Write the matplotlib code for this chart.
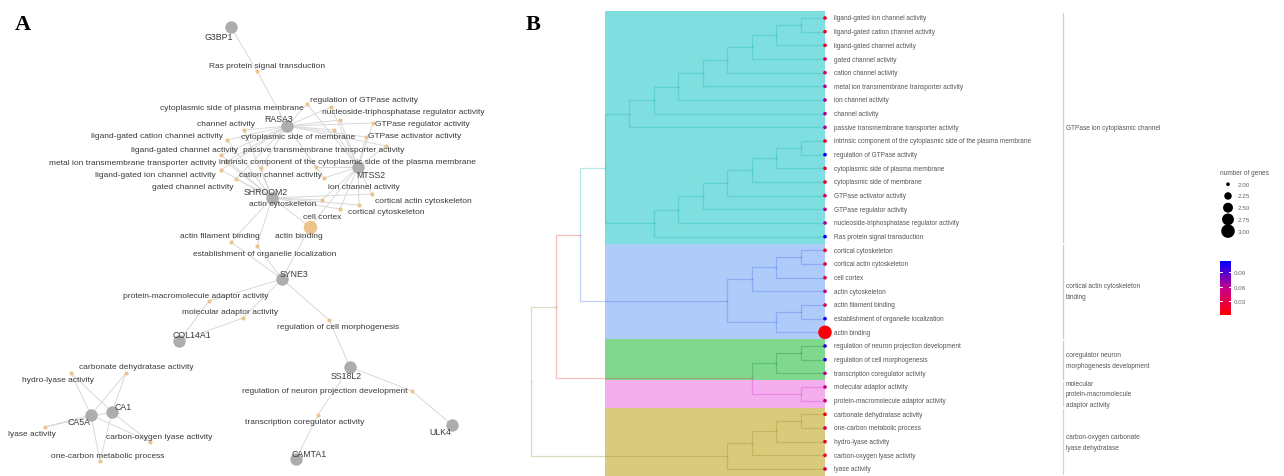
import numpy as np
import matplotlib.pyplot as plt
from matplotlib.colors import LinearSegmentedColormap
from matplotlib.patches import Rectangle

plt.rcParams['font.family'] = ['Liberation Sans', 'DejaVu Sans']

W, H = 1284, 477

# ---------------- panel A: gene / term network ----------------
# gene node -> (x, y) of node, (x, y) of label
genes = {
    'G3BP1': (231, 28, 219, 37),
    'RASA3': (287, 127, 279, 120),
    'MTSS2': (358, 168, 371, 176),
    'SHROOM2': (272, 199, 266, 193),
    'SYNE3': (282, 280, 294, 275),
    'COL14A1': (179, 342, 192, 336),
    'SS18L2': (350, 368, 346, 377),
    'CA1': (112, 413, 123, 408),
    'CA5A': (91, 416, 79, 423),
    'ULK4': (452, 426, 440, 433),
    'CAMTA1': (296, 460, 309, 455),
}

# term node -> dot x, dot y, label x, label y, alignment
terms = {
    'Ras protein signal transduction': (257, 72, 267, 67, 'center'),
    'cytoplasmic side of plasma membrane': (307, 105, 304, 109, 'right'),
    'regulation of GTPase activity': (331, 108, 310, 100, 'left'),
    'nucleoside-triphosphatase regulator activity': (340, 121, 322, 112, 'left'),
    'channel activity': (244, 131, 255, 125, 'right'),
    'GTPase regulator activity': (373, 124, 375, 124, 'left'),
    'ligand-gated cation channel activity': (227, 141, 223, 137, 'right'),
    'cytoplasmic side of membrane': (334, 131, 241, 138, 'left'),
    'GTPase activator activity': (366, 138, 368, 137, 'left'),
    'ligand-gated channel activity': (221, 156, 238, 151, 'right'),
    'passive transmembrane transporter activity': (386, 147, 243, 151, 'left'),
    'metal ion transmembrane transporter activity': (226, 163, 216, 164, 'right'),
    'intrinsic component of the cytoplasmic side of the plasma membrane': (316, 168, 219, 163, 'left'),
    'ligand-gated ion channel activity': (221, 171, 216, 176, 'right'),
    'cation channel activity': (261, 169, 239, 176, 'left'),
    'gated channel activity': (236, 180, 233, 188, 'right'),
    'ion channel activity': (324, 179, 328, 188, 'left'),
    'actin cytoskeleton': (322, 201, 249, 205, 'left'),
    'cortical actin cytoskeleton': (372, 195, 375, 202, 'left'),
    'cortical cytoskeleton': (359, 206, 348, 213, 'left'),
    'cell cortex': (340, 210, 303, 218, 'left'),
    'actin binding': (310, 228, 275, 237, 'left'),
    'actin filament binding': (231, 243, 180, 237, 'left'),
    'establishment of organelle localization': (257, 247, 193, 254, 'left'),
    'protein-macromolecule adaptor activity': (209, 302, 123, 297, 'left'),
    'molecular adaptor activity': (243, 319, 182, 313, 'left'),
    'regulation of cell morphogenesis': (329, 321, 277, 328, 'left'),
    'carbonate dehydratase activity': (126, 374, 79, 368, 'left'),
    'hydro-lyase activity': (71, 374, 22, 381, 'left'),
    'regulation of neuron projection development': (412, 392, 408, 392, 'right'),
    'lyase activity': (45, 428, 8, 435, 'left'),
    'carbon-oxygen lyase activity': (150, 443, 106, 438, 'left'),
    'transcription coregulator activity': (318, 416, 245, 423, 'left'),
    'one-carbon metabolic process': (100, 462, 51, 457, 'left'),
}

channel_terms = ['channel activity', 'ligand-gated cation channel activity',
                 'ligand-gated channel activity', 'metal ion transmembrane transporter activity',
                 'ligand-gated ion channel activity', 'cation channel activity',
                 'gated channel activity']
gtpase_terms = ['regulation of GTPase activity', 'cytoplasmic side of plasma membrane',
                'nucleoside-triphosphatase regulator activity', 'GTPase regulator activity',
                'GTPase activator activity', 'cytoplasmic side of membrane',
                'intrinsic component of the cytoplasmic side of the plasma membrane',
                'passive transmembrane transporter activity', 'ion channel activity']
cortex_terms = ['actin cytoskeleton', 'cortical actin cytoskeleton',
                'cortical cytoskeleton', 'cell cortex', 'actin binding']
ca_terms = ['carbonate dehydratase activity', 'hydro-lyase activity', 'lyase activity',
            'carbon-oxygen lyase activity', 'one-carbon metabolic process']

gene_terms = {
    'G3BP1': ['Ras protein signal transduction'],
    'RASA3': ['Ras protein signal transduction'] + gtpase_terms + channel_terms,
    'MTSS2': gtpase_terms + cortex_terms,
    'SHROOM2': channel_terms + cortex_terms + ['actin filament binding',
                                               'establishment of organelle localization'],
    'SYNE3': ['actin binding', 'actin filament binding', 'establishment of organelle localization',
              'protein-macromolecule adaptor activity', 'molecular adaptor activity',
              'regulation of cell morphogenesis'],
    'COL14A1': ['protein-macromolecule adaptor activity', 'molecular adaptor activity'],
    'SS18L2': ['regulation of cell morphogenesis', 'regulation of neuron projection development',
               'transcription coregulator activity'],
    'ULK4': ['regulation of neuron projection development'],
    'CAMTA1': ['transcription coregulator activity'],
    'CA1': ca_terms,
    'CA5A': ca_terms,
}

# ---------------- panel B: term tree ----------------
leaf_names = [
    'ligand-gated ion channel activity', 'ligand-gated cation channel activity',
    'ligand-gated channel activity', 'gated channel activity', 'cation channel activity',
    'metal ion transmembrane transporter activity', 'ion channel activity', 'channel activity',
    'passive transmembrane transporter activity',
    'intrinsic component of the cytoplasmic side of the plasma membrane',
    'regulation of GTPase activity', 'cytoplasmic side of plasma membrane',
    'cytoplasmic side of membrane', 'GTPase activator activity', 'GTPase regulator activity',
    'nucleoside-triphosphatase regulator activity', 'Ras protein signal transduction',
    'cortical cytoskeleton', 'cortical actin cytoskeleton', 'cell cortex', 'actin cytoskeleton',
    'actin filament binding', 'establishment of organelle localization', 'actin binding',
    'regulation of neuron projection development', 'regulation of cell morphogenesis',
    'transcription coregulator activity', 'molecular adaptor activity',
    'protein-macromolecule adaptor activity', 'carbonate dehydratase activity',
    'one-carbon metabolic process', 'hydro-lyase activity', 'carbon-oxygen lyase activity',
    'lyase activity',
]
leaf_pvalue = [0.012, 0.012, 0.015, 0.035, 0.04, 0.06, 0.065, 0.065, 0.065,
               0.012, 0.11, 0.015, 0.02, 0.04, 0.06, 0.065, 0.113,
               0.015, 0.02, 0.03, 0.06, 0.03, 0.105, 0.005,
               0.1, 0.1, 0.06, 0.055, 0.045,
               0.001, 0.03, 0.015, 0.015, 0.03]
leaf_count = [2] * 23 + [3] + [2] * 10

# (child a, child b, height); ids >= 34 are merged nodes
merges = [
    (0, 1, 1), (34, 2, 2), (35, 3, 3), (36, 4, 4), (37, 5, 5), (38, 6, 6), (39, 7, 7), (40, 8, 8),
    (9, 10, 1), (42, 11, 2), (43, 12, 3), (44, 13, 4), (45, 14, 5), (46, 15, 6), (47, 16, 7),
    (41, 48, 9),
    (17, 18, 1), (50, 19, 2), (51, 20, 3), (21, 22, 1), (53, 23, 2), (52, 54, 4),
    (24, 25, 1), (56, 26, 2), (27, 28, 1), (57, 58, 3),
    (29, 30, 1), (60, 31, 2), (61, 32, 3), (62, 33, 4),
    (49, 55, 10), (64, 59, 11), (65, 63, 12),
]
cluster_sizes = [17, 7, 3, 2, 5]
cluster_names = ['GTPase ion cytoplasmic channel',
                 'cortical actin cytoskeleton\nbinding',
                 'coregulator neuron\nmorphogenesis development',
                 'molecular\nprotein-macromolecule\nadaptor activity',
                 'carbon-oxygen carbonate\nlyase dehydratase']
cluster_fill = ['#7FDEDF', '#AFCBFA', '#80D88F', '#F4AEEE', '#D9CB7B']
cluster_line = ['#20B4B4', '#3D6FE8', '#109030', '#D040C8', '#9A8A20']
cluster_tag = ['#A8DDEA', '#B8CCF4', '#B0DDB8', '#F0C0EC', '#DDD6BC']
mixed_line = {10: '#20B4B4', 11: '#E83030', 12: '#B09060'}

size_legend = [2.00, 2.25, 2.50, 2.75, 3.00]
pv_ticks = [0.03, 0.06, 0.09]


def dot_area(n):
    return 7 + (n - 2) * 88


fig = plt.figure(figsize=(W / 100, H / 100), dpi=100)

# ---- A ----
axA = fig.add_axes([0, 0, 520 / W, 1])
axA.set_xlim(0, 520)
axA.set_ylim(H, 0)
axA.axis('off')

term_deg = {t: 0 for t in terms}
for g, tl in gene_terms.items():
    gx, gy = genes[g][:2]
    for t in tl:
        term_deg[t] += 1
        tx, ty = terms[t][:2]
        axA.plot([gx, tx], [gy, ty], color='#D9D9D9', lw=0.7, zorder=1)

for t, (dx, dy, lx, ly, ha) in terms.items():
    n = term_deg[t]
    axA.scatter(dx, dy, s=9 if n < 3 else 95, color='#EDC48E', zorder=3, linewidths=0)
    axA.text(lx, ly, t, ha=ha, va='center', fontsize=6, color='#3a3a3a', zorder=4)

for g, (gx, gy, lx, ly) in genes.items():
    axA.scatter(gx, gy, s=80, color='#ADADAD', zorder=3, linewidths=0)
    axA.text(lx, ly, g, ha='center', va='center', fontsize=6.3, color='#3a3a3a', zorder=4)

fig.text(23 / W, 1 - 25 / H, 'A', fontsize=16, fontweight='bold',
         family='Liberation Serif', ha='center', va='center')
fig.text(533 / W, 1 - 25 / H, 'B', fontsize=16, fontweight='bold',
         family='Liberation Serif', ha='center', va='center')

# ---- B ----
x0px, hstep = 825, 24.5
y0px, ystep = 19, (470 - 19) / 33
axB = fig.add_axes([520 / W, 0, 764 / W, 1])
axB.set_xlim((x0px - 520) / hstep, (x0px - W) / hstep)
axB.set_ylim((H - y0px) / ystep, -y0px / ystep)
axB.axis('off')

n_leaf = len(leaf_names)
cluster_of = np.repeat(np.arange(len(cluster_sizes)), cluster_sizes)
starts = np.concatenate([[0], np.cumsum(cluster_sizes)[:-1]])

ypos = {i: float(i) for i in range(n_leaf)}
hgt = {i: 0 for i in range(n_leaf)}
members = {i: [i] for i in range(n_leaf)}
for k, (a, b, h) in enumerate(merges):
    node = n_leaf + k
    ypos[node] = (ypos[a] + ypos[b]) / 2
    hgt[node] = h
    members[node] = members[a] + members[b]

for c, (s0, sz) in enumerate(zip(starts, cluster_sizes)):
    axB.add_patch(Rectangle((0, s0 - 0.5), 9, sz, facecolor=cluster_fill[c],
                            edgecolor='none', zorder=0))

for k, (a, b, h) in enumerate(merges):
    node = n_leaf + k
    for ch in (a, b):
        cl = set(cluster_of[members[ch]])
        if len(cl) == 1:
            col = cluster_line[cl.pop()]
        else:
            col = mixed_line[h]
        axB.plot([hgt[ch], h, h], [ypos[ch], ypos[ch], ypos[node]],
                 color=col, alpha=0.32, lw=0.9, solid_joinstyle='miter', zorder=1)

cmap = LinearSegmentedColormap.from_list('pv', ['#FF0000', '#C4008E', '#0000FF'])
vmin, vmax = min(leaf_pvalue), max(leaf_pvalue)
axB.scatter(np.zeros(n_leaf), np.arange(n_leaf), s=[dot_area(n) for n in leaf_count],
            c=leaf_pvalue, cmap=cmap, vmin=vmin, vmax=vmax, linewidths=0, zorder=3)
for i, name in enumerate(leaf_names):
    axB.text((x0px - 834) / hstep, i, name, ha='left', va='center',
             fontsize=4.7, color='#555555')

xb = (x0px - 1063) / hstep
for c, (s0, sz) in enumerate(zip(starts, cluster_sizes)):
    axB.plot([xb, xb], [s0 - 0.4, s0 + sz - 0.6], color=cluster_tag[c], lw=0.9)
    axB.text((x0px - 1066) / hstep, s0 + (sz - 1) / 2, cluster_names[c], ha='left',
             va='center', fontsize=4.7, color='#555555', linespacing=1.75)

# size legend
axL = fig.add_axes([1210 / W, 1 - 245 / H, 70 / W, 75 / H])
axL.set_xlim(0, 70)
axL.set_ylim(len(size_legend) + 0.1, -1.3)
axL.axis('off')
axL.text(10, -1, 'number of genes', fontsize=4.7, color='#555555', va='center')
axL.scatter(np.full(len(size_legend), 18), np.arange(len(size_legend)),
            s=[dot_area(v) for v in size_legend], color='black', linewidths=0)
for i, v in enumerate(size_legend):
    axL.text(28, i, f'{v:.2f}', fontsize=4.5, color='#666666', va='center')

# colour bar
axC = fig.add_axes([1220 / W, 1 - 316 / H, 11 / W, 54 / H])
grad = np.linspace(vmin, vmax, 200).reshape(-1, 1)
axC.imshow(grad, aspect='auto', cmap=cmap, origin='lower',
           extent=[0, 1, vmin, vmax], vmin=vmin, vmax=vmax)
axC.set_xlim(0, 1)
axC.set_ylim(vmin, vmax)
for tv in pv_ticks:
    axC.plot([0, 0.22], [tv, tv], color='white', lw=0.7)
    axC.plot([0.78, 1], [tv, tv], color='white', lw=0.7)
axC.set_xticks([])
axC.set_yticks(pv_ticks)
axC.set_yticklabels([f'{t:.2f}' for t in pv_ticks])
axC.yaxis.tick_right()
axC.tick_params(axis='y', length=0, labelsize=4.5, labelcolor='#666666', pad=2)
for sp in axC.spines.values():
    sp.set_visible(False)

fig.savefig('out.png', dpi=100)
